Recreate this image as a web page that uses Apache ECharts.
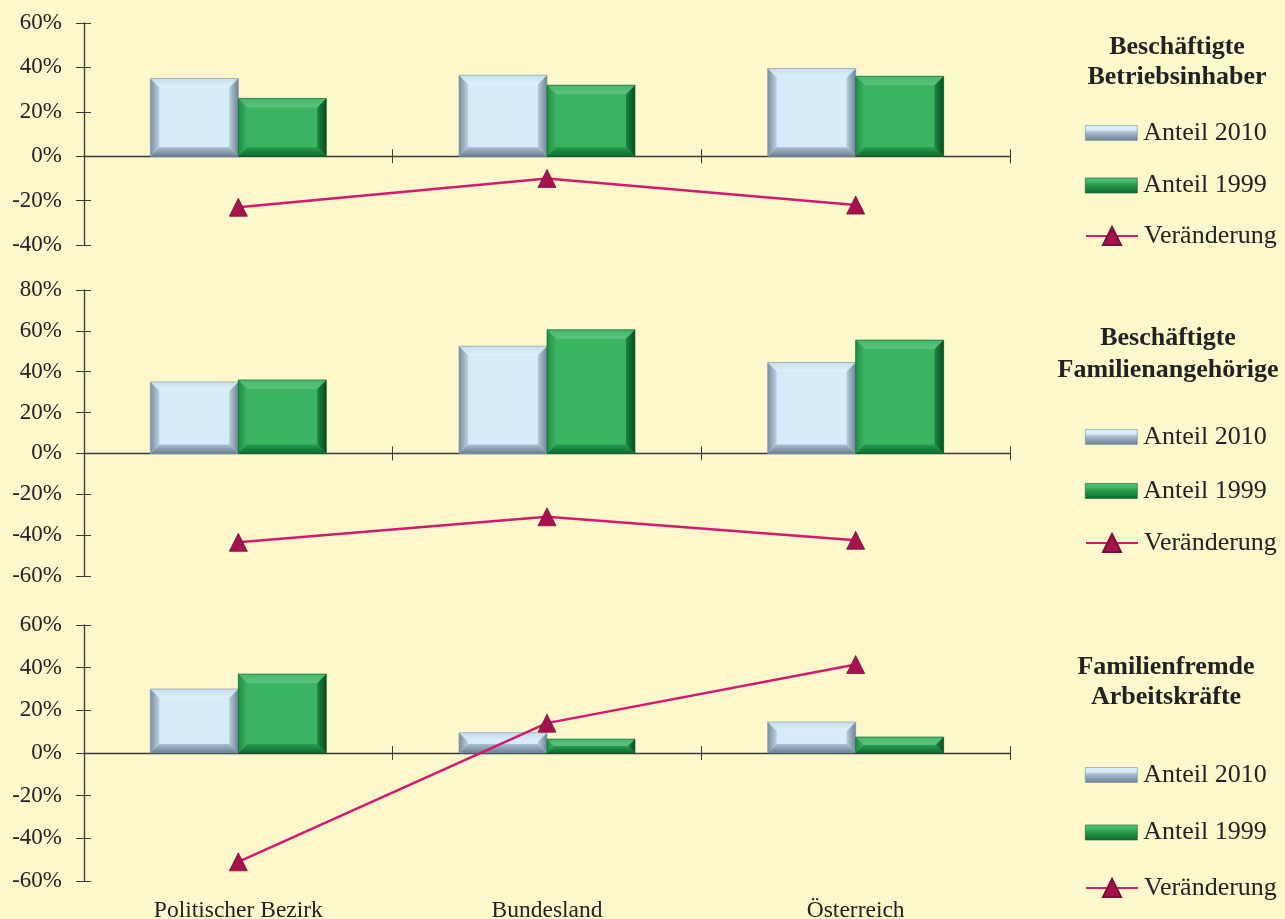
<!DOCTYPE html>
<html><head><meta charset="utf-8">
<script src="https://cdn.jsdelivr.net/npm/echarts@6/dist/echarts.min.js"></script>
<style>html,body{margin:0;padding:0;background:#FDF7CC}#c{width:1285px;height:919px}</style>
</head><body><div id="c"></div>
<script>
const categories = ['Politischer Bezirk', 'Bundesland', 'Österreich'];
const seriesNames = ['Anteil 2010', 'Anteil 1999', 'Veränderung'];
const panelTitles = ['Beschäftigte\nBetriebsinhaber', 'Beschäftigte\nFamilienangehörige', 'Familienfremde\nArbeitskräfte'];
const p1Share2010 = [35, 36.5, 39.5];
const p1Share1999 = [26, 32, 36];
const p1Change = [-23, -10, -22];
const p2Share2010 = [35, 52.5, 44.5];
const p2Share1999 = [36, 60.5, 55.5];
const p2Change = [-43.5, -31, -42.5];
const p3Share2010 = [30, 9.5, 14.5];
const p3Share1999 = [37, 6.5, 7.5];
const p3Change = [-51, 14, 41.5];
const yMin = [-40, -60, -60];
const yMax = [60, 80, 60];

const panels = [
  {s10: p1Share2010, s99: p1Share1999, ch: p1Change},
  {s10: p2Share2010, s99: p2Share1999, ch: p2Change},
  {s10: p3Share2010, s99: p3Share1999, ch: p3Change}
];
const gridPos = [
  {top: 23, height: 222},
  {top: 290, height: 286},
  {top: 625, height: 256}
];
const titleLeft = [1172, 1163, 1161];
const titleTop = [27, 317, 647];
const titleLH = [30, 32, 30];
const legendTop = [120, 424, 762];
const legendGap = [26.5, 28, 31.5];
const lineLegendCenter = [236, 543, 888];
const font = 'Liberation Serif';
const txt = '#222';

const palette = {
  blue: {face: '#D5ECF8',
    left: ['#7A90A2', '#B9D1E0'], top: ['#C6DEEC', '#DDF0FA'],
    right: ['#6F8596', '#B2CADA'], bottom: ['#6A8092', '#A8C0D0'], edge: '#7890A2'},
  green: {face: '#3BB461',
    left: ['#1E8E45', '#3CB362'], top: ['#44B868', '#5DC37F'],
    right: ['#0A4B22', '#1B8641'], bottom: ['#0D6B30', '#279C4F'], edge: '#0B5A28'}
};
const BAR_FRAC = 0.285;

function grad(dir, c) {
  const g = {type: 'linear', x: 0, y: 0, x2: 0, y2: 0, colorStops: [{offset: 0, color: c[0]}, {offset: 1, color: c[1]}]};
  if (dir === 'l') { g.x2 = 1; }
  if (dir === 'r') { g.x = 1; }
  if (dir === 't') { g.y2 = 1; }
  if (dir === 'b') { g.y = 1; }
  return g;
}

function bevelSeries(name, values, side, pal, xIdx, yIdx) {
  return {
    name: name, type: 'custom', xAxisIndex: xIdx, yAxisIndex: yIdx,
    data: values.map((v, k) => [k, v]), encode: {x: 0, y: 1}, z: 3,
    itemStyle: {color: pal.face},
    renderItem: function (params, api) {
      const base = api.coord([api.value(0), 0]);
      const tip = api.coord([api.value(0), api.value(1)]);
      const band = api.size([1, 0])[0];
      const w = band * BAR_FRAC;
      const x0 = side === 0 ? base[0] - w : base[0];
      const x1 = x0 + w;
      const yT = Math.min(base[1], tip[1]);
      const yB = Math.max(base[1], tip[1]);
      const h = yB - yT;
      const b = Math.min(9, h / 2, w / 2);
      const poly = (pts, c) => ({type: 'polygon', shape: {points: pts}, style: {fill: c}});
      return {
        type: 'group',
        children: [
          {type: 'rect', shape: {x: x0, y: yT, width: w, height: h}, style: {fill: pal.face}},
          poly([[x0, yT], [x1, yT], [x1 - b, yT + b], [x0 + b, yT + b]], grad('t', pal.top)),
          poly([[x0, yT], [x0 + b, yT + b], [x0 + b, yB - b], [x0, yB]], grad('l', pal.left)),
          poly([[x1, yT], [x1 - b, yT + b], [x1 - b, yB - b], [x1, yB]], grad('r', pal.right)),
          poly([[x0, yB], [x1, yB], [x1 - b, yB - b], [x0 + b, yB - b]], grad('b', pal.bottom)),
          {type: 'rect', shape: {x: x0, y: yT, width: w, height: h}, style: {fill: 'none', stroke: pal.edge, lineWidth: 0.6}}
        ]
      };
    }
  };
}

const option = {
  backgroundColor: '#FDF7CC',
  animation: false,
  textStyle: {fontFamily: font},
  title: [], legend: [], grid: [], xAxis: [], yAxis: [], series: []
};

const legendGrad = (p) => ({type: 'linear', x: 0, y: 0, x2: 0, y2: 1, colorStops: [
  {offset: 0, color: p.top[1]}, {offset: 0.3, color: p.face}, {offset: 0.45, color: p.bottom[1]}, {offset: 1, color: p.bottom[0]}]});

panels.forEach((p, i) => {
  option.grid.push({left: 84, width: 926, top: gridPos[i].top, height: gridPos[i].height,
    containLabel: false, outerBoundsMode: 'none'});
  option.title.push({
    text: panelTitles[i], left: titleLeft[i], top: titleTop[i], textAlign: 'center',
    textStyle: {fontFamily: font, fontWeight: 'bold', fontSize: 26, lineHeight: titleLH[i], color: txt}
  });
  option.legend.push({
    data: [
      {name: seriesNames[0], icon: 'rect', itemStyle: {color: legendGrad(palette.blue), borderColor: palette.blue.edge, borderWidth: 0.6}},
      {name: seriesNames[1], icon: 'rect', itemStyle: {color: legendGrad(palette.green), borderColor: palette.green.edge, borderWidth: 0.6}}
    ],
    orient: 'vertical', left: 1085, top: legendTop[i], padding: 0,
    itemWidth: 52, itemHeight: 15, itemGap: legendGap[i],
    selectedMode: false,
    textStyle: {fontFamily: font, fontSize: 26, lineHeight: 26, color: txt, padding: [0, 0, 0, 1]}
  });
  option.legend.push({
    data: [{name: seriesNames[2]}],
    orient: 'vertical', left: 1085, top: lineLegendCenter[i] - 13, padding: 0,
    itemWidth: 52, itemHeight: 22.5, selectedMode: false,
    textStyle: {fontFamily: font, fontSize: 26, lineHeight: 26, color: txt, padding: [0, 0, 0, 1]}
  });
  const xBase = option.xAxis.length;
  const yBase = option.yAxis.length;
  option.xAxis.push({
    type: 'category', data: categories, gridIndex: i, position: 'bottom',
    axisLine: {onZero: true, lineStyle: {color: '#3a3a3a', width: 1.3}},
    axisTick: {show: true, inside: false, length: 7, lineStyle: {color: '#3a3a3a'}},
    axisLabel: {show: false}, splitLine: {show: false}
  });
  option.xAxis.push({
    type: 'category', data: categories, gridIndex: i, position: 'bottom',
    axisLine: {show: false, onZero: true},
    axisTick: {show: true, inside: true, length: 7, lineStyle: {color: '#3a3a3a'}},
    axisLabel: {show: false}, splitLine: {show: false}
  });
  if (i === 2) {
    option.xAxis.push({
      type: 'category', data: categories, gridIndex: i, position: 'bottom',
      axisLine: {show: false, onZero: false}, axisTick: {show: false},
      axisLabel: {show: true, margin: 18, fontFamily: font, fontSize: 23.5, color: txt},
      splitLine: {show: false}
    });
  }
  option.yAxis.push({
    type: 'value', gridIndex: i, position: 'left', min: yMin[i], max: yMax[i], interval: 20,
    axisLine: {show: true, onZero: false, lineStyle: {color: '#3a3a3a', width: 1.3}},
    axisTick: {show: true, inside: false, length: 8, lineStyle: {color: '#3a3a3a'}},
    axisLabel: {formatter: '{value}%', margin: 22, fontFamily: font, fontSize: 23, color: txt},
    splitLine: {show: false}
  });
  option.yAxis.push({
    type: 'value', gridIndex: i, position: 'left', min: yMin[i], max: yMax[i], interval: 20,
    axisLine: {show: false, onZero: false},
    axisTick: {show: true, inside: true, length: 7, lineStyle: {color: '#3a3a3a'}},
    axisLabel: {show: false}, splitLine: {show: false}
  });
  option.series.push(bevelSeries(seriesNames[0], p.s10, 0, palette.blue, xBase, yBase));
  option.series.push(bevelSeries(seriesNames[1], p.s99, 1, palette.green, xBase, yBase));
  option.series.push({
    name: seriesNames[2], type: 'line', xAxisIndex: xBase, yAxisIndex: yBase,
    data: p.ch, symbol: 'triangle', symbolSize: 18,
    lineStyle: {color: '#D6186E', width: 2.5},
    itemStyle: {color: '#A5134F', borderColor: '#7A0E3A', borderWidth: 0.8},
    z: 5
  });
});

const chart = echarts.init(document.getElementById('c'), null, {renderer: 'canvas'});
chart.setOption(option);
</script>
</body></html>
